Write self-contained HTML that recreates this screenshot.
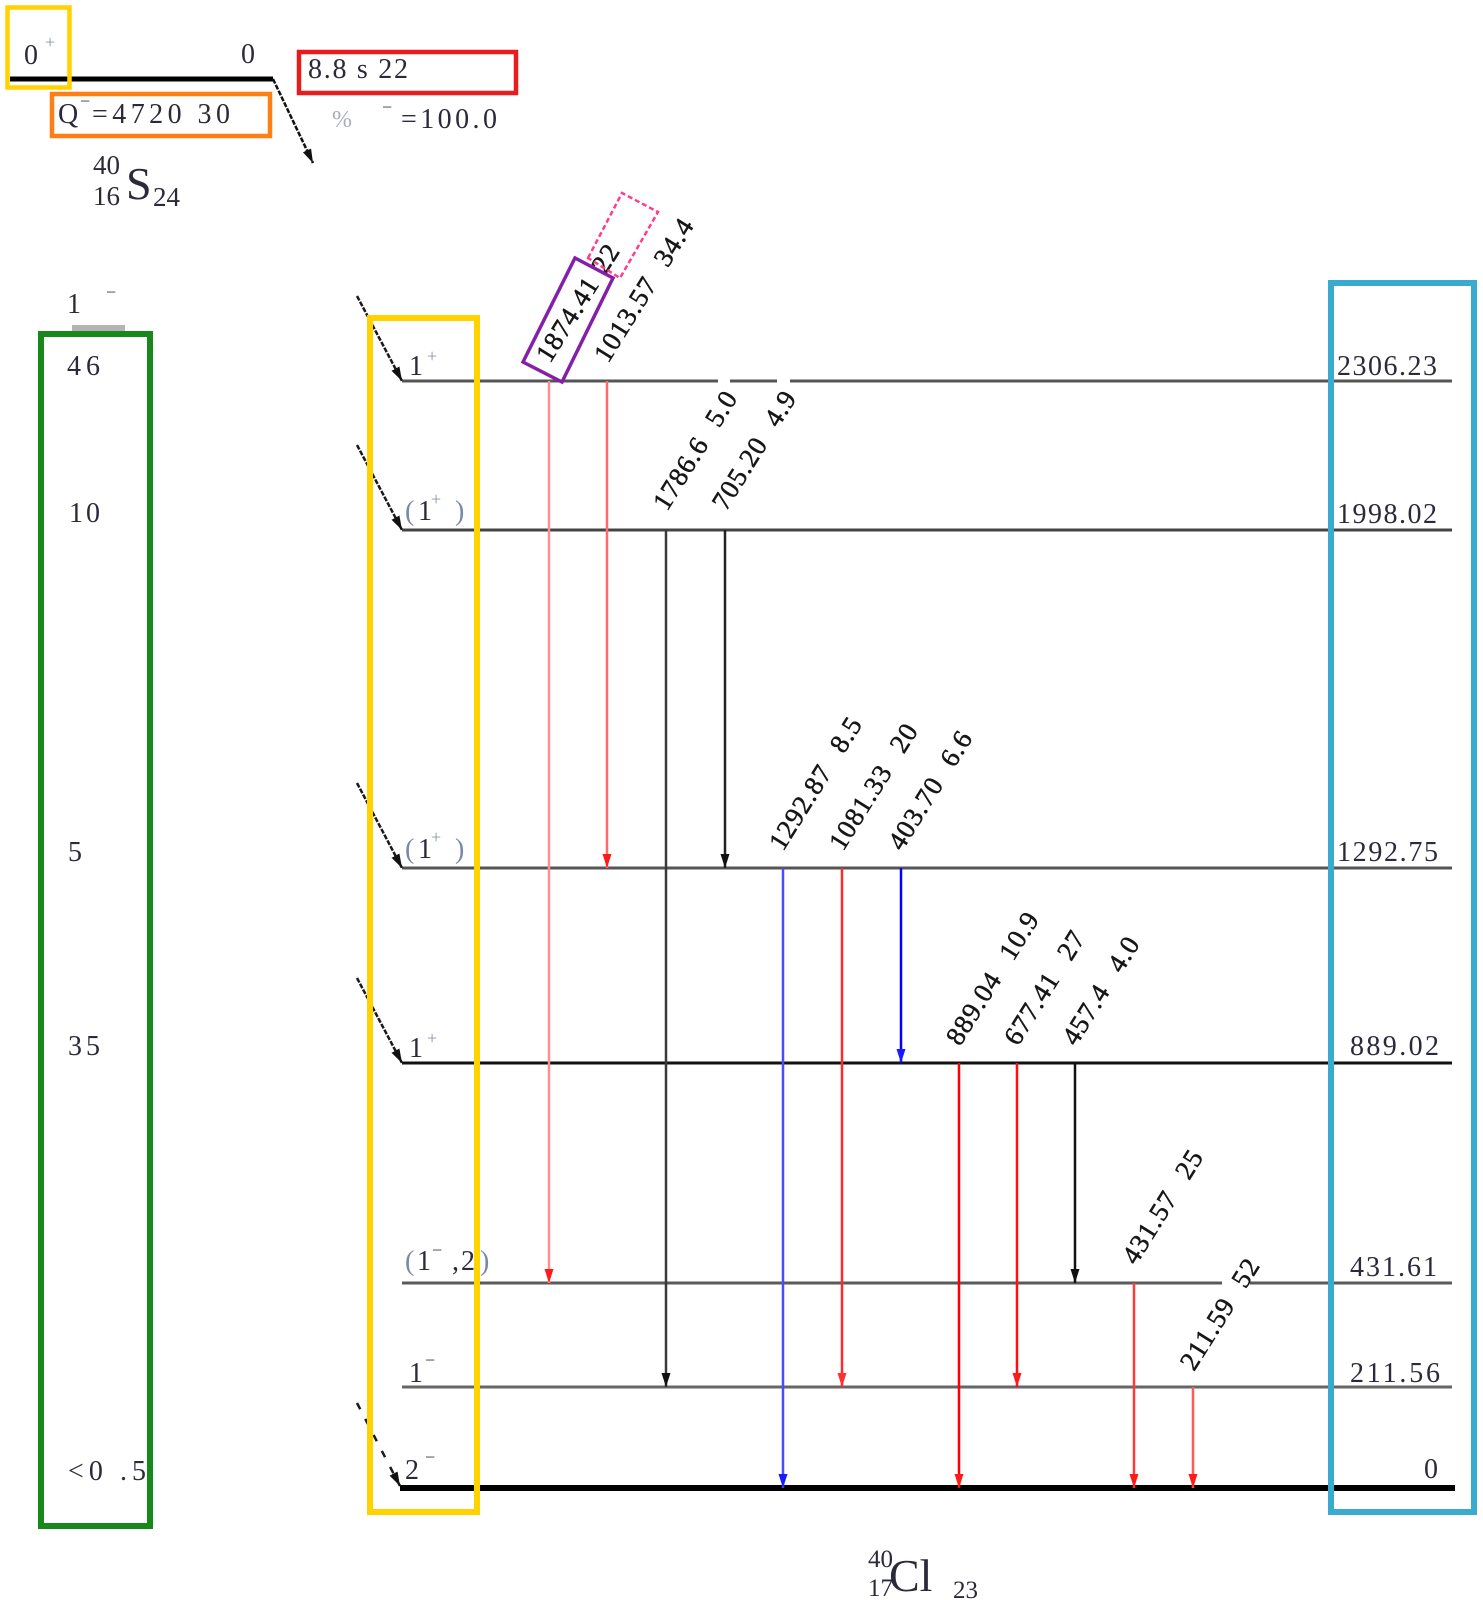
<!DOCTYPE html>
<html><head><meta charset="utf-8">
<style>
html,body{margin:0;padding:0;background:#fff;}
svg{display:block;}
text{font-family:"Liberation Serif",serif;fill:#2b2a3a;}
.lab{font-size:27px;fill:#161616;letter-spacing:1px;stroke:#161616;stroke-width:0.5px;}
.en{font-size:28px;}
.sp{font-size:28px;}
.sup{font-size:18px;fill:#8a97ad;}
</style></head><body>
<svg width="1483" height="1600" viewBox="0 0 1483 1600" xmlns="http://www.w3.org/2000/svg">
<defs>
<marker id="mk" markerUnits="userSpaceOnUse" markerWidth="14" markerHeight="9" refX="14" refY="4.5" orient="auto" viewBox="0 0 14 9"><path d="M0,0L14,4.5L0,9z" fill="#111"/></marker>
<marker id="mr" markerUnits="userSpaceOnUse" markerWidth="14" markerHeight="9" refX="14" refY="4.5" orient="auto" viewBox="0 0 14 9"><path d="M0,0L14,4.5L0,9z" fill="#ff1a1a"/></marker>
<marker id="mp" markerUnits="userSpaceOnUse" markerWidth="14" markerHeight="9" refX="14" refY="4.5" orient="auto" viewBox="0 0 14 9"><path d="M0,0L14,4.5L0,9z" fill="#ff3030"/></marker>
<marker id="mb" markerUnits="userSpaceOnUse" markerWidth="14" markerHeight="9" refX="14" refY="4.5" orient="auto" viewBox="0 0 14 9"><path d="M0,0L14,4.5L0,9z" fill="#1a1aff"/></marker>
</defs>
<rect width="1483" height="1600" fill="#fff"/>

<!-- Parent level -->
<line x1="10" y1="79" x2="273" y2="79" stroke="#000" stroke-width="5"/>
<line x1="273" y1="79" x2="313" y2="163" stroke="#111" stroke-width="2.5" stroke-dasharray="5 1.5" marker-end="url(#mk)"/>
<text x="24" y="64" class="sp" fill="#3a3a55">0</text>
<text x="45" y="48" class="sup">+</text>
<text x="241" y="63" class="sp">0</text>
<text x="58" y="123" class="sp">Q</text>
<text x="80" y="107" class="sup" style="fill:#3a3a55">−</text>
<text x="92" y="123" class="sp" textLength="138" lengthAdjust="spacing">=4720 30</text>
<text x="308" y="78" class="sp" textLength="100" lengthAdjust="spacing">8.8 s 22</text>
<text x="332" y="127" style="font-size:24px;fill:#a8adb8">%</text>
<text x="382" y="113" class="sup" style="fill:#3a3a55">−</text>
<text x="401" y="128" class="sp" textLength="96" lengthAdjust="spacing">=100.0</text>
<text x="93" y="174" style="font-size:27px">40</text>
<text x="93" y="205" style="font-size:27px">16</text>
<text x="126" y="199" style="font-size:46px">S</text>
<text x="153" y="206" style="font-size:27px">24</text>

<!-- Daughter levels -->
<g stroke-width="3">
<line x1="402" y1="381" x2="718" y2="381" stroke="#555"/>
<line x1="730" y1="381" x2="777" y2="381" stroke="#555"/>
<line x1="790" y1="381" x2="1452" y2="381" stroke="#555"/>
<line x1="402" y1="530" x2="1452" y2="530" stroke="#444"/>
<line x1="402" y1="868" x2="1452" y2="868" stroke="#555"/>
<line x1="402" y1="1063" x2="1452" y2="1063" stroke="#111"/>
<line x1="402" y1="1283" x2="1222" y2="1283" stroke="#5a5a5a"/>
<line x1="1250" y1="1283" x2="1452" y2="1283" stroke="#5a5a5a"/>
<line x1="402" y1="1387" x2="1452" y2="1387" stroke="#666"/>
</g>
<line x1="400" y1="1488" x2="1455" y2="1488" stroke="#000" stroke-width="6"/>

<!-- feeding arrows -->
<g stroke="#1a1a1a" stroke-width="2.5" stroke-dasharray="5 1.5">
<line x1="357" y1="296" x2="402" y2="381" marker-end="url(#mk)"/>
<line x1="357" y1="445" x2="402" y2="530" marker-end="url(#mk)"/>
<line x1="357" y1="783" x2="402" y2="868" marker-end="url(#mk)"/>
<line x1="357" y1="978" x2="402" y2="1063" marker-end="url(#mk)"/>
</g>
<line x1="357" y1="1403" x2="400" y2="1486" stroke="#1a1a1a" stroke-width="2.5" stroke-dasharray="7 11" marker-end="url(#mk)"/>

<!-- transitions -->
<g stroke-width="2.5">
<line x1="549" y1="381" x2="549" y2="1283" stroke="#ff8e8e" marker-end="url(#mr)"/>
<line x1="607" y1="381" x2="607" y2="868" stroke="#ff6b6b" marker-end="url(#mr)"/>
<line x1="666" y1="530" x2="666" y2="1387" stroke="#3a3a3a" marker-end="url(#mk)"/>
<line x1="725" y1="530" x2="725" y2="868" stroke="#222" marker-end="url(#mk)"/>
<line x1="783" y1="868" x2="783" y2="1488" stroke="#4a4aff" marker-end="url(#mb)"/>
<line x1="842" y1="868" x2="842" y2="1387" stroke="#ff2a2a" marker-end="url(#mp)"/>
<line x1="901" y1="868" x2="901" y2="1063" stroke="#0000ff" marker-end="url(#mb)"/>
<line x1="959" y1="1063" x2="959" y2="1488" stroke="#ff0000" marker-end="url(#mr)"/>
<line x1="1017" y1="1063" x2="1017" y2="1387" stroke="#ff1010" marker-end="url(#mr)"/>
<line x1="1075" y1="1063" x2="1075" y2="1283" stroke="#111" marker-end="url(#mk)"/>
<line x1="1134" y1="1283" x2="1134" y2="1488" stroke="#ff3a3a" marker-end="url(#mr)"/>
<line x1="1193" y1="1387" x2="1193" y2="1488" stroke="#ff5a5a" marker-end="url(#mr)"/>
</g>

<!-- rotated transition labels -->
<text class="lab" transform="translate(550,364) rotate(-58)">1874.41<tspan dx="10">22</tspan></text>
<text class="lab" transform="translate(608,364) rotate(-58)">1013.57<tspan dx="18">34.4</tspan></text>
<text class="lab" transform="translate(667,512) rotate(-58)">1786.6<tspan dx="18">5.0</tspan></text>
<text class="lab" transform="translate(726,512) rotate(-58)">705.20<tspan dx="18">4.9</tspan></text>
<text class="lab" transform="translate(783,852) rotate(-58)">1292.87<tspan dx="20">8.5</tspan></text>
<text class="lab" transform="translate(843,852) rotate(-58)">1081.33<tspan dx="20">20</tspan></text>
<text class="lab" transform="translate(902,852) rotate(-58)">403.70<tspan dx="18">6.6</tspan></text>
<text class="lab" transform="translate(960,1047) rotate(-58)">889.04<tspan dx="20">10.9</tspan></text>
<text class="lab" transform="translate(1018,1047) rotate(-58)">677.41<tspan dx="20">27</tspan></text>
<text class="lab" transform="translate(1076,1047) rotate(-58)">457.4<tspan dx="20">4.0</tspan></text>
<text class="lab" transform="translate(1136,1266) rotate(-58)">431.57<tspan dx="20">25</tspan></text>
<text class="lab" transform="translate(1194,1372) rotate(-58)">211.59<tspan dx="18">52</tspan></text>

<!-- energy labels -->
<text class="en" x="1337" y="375" textLength="100" lengthAdjust="spacing">2306.23</text>
<text class="en" x="1337" y="523" textLength="100" lengthAdjust="spacing">1998.02</text>
<text class="en" x="1337" y="861" textLength="101" lengthAdjust="spacing">1292.75</text>
<text class="en" x="1350" y="1055" textLength="89" lengthAdjust="spacing">889.02</text>
<text class="en" x="1350" y="1276" textLength="87" lengthAdjust="spacing">431.61</text>
<text class="en" x="1350" y="1382" textLength="90" lengthAdjust="spacing">211.56</text>
<text class="en" x="1424" y="1478">0</text>

<!-- spin labels -->
<text class="sp" x="409" y="375">1</text><text class="sup" x="427" y="362">+</text>
<text class="sp" x="405" y="520" style="fill:#7a88a8">(</text><text class="sp" x="418" y="520">1</text><text class="sup" x="431" y="505">+</text><text class="sp" x="455" y="520" style="fill:#7a88a8">)</text>
<text class="sp" x="405" y="858" style="fill:#7a88a8">(</text><text class="sp" x="418" y="858">1</text><text class="sup" x="431" y="843">+</text><text class="sp" x="455" y="858" style="fill:#7a88a8">)</text>
<text class="sp" x="409" y="1057">1</text><text class="sup" x="427" y="1044">+</text>
<text class="sp" x="405" y="1270" style="fill:#7a88a8">(</text><text class="sp" x="417" y="1270">1</text><text class="sup" x="432" y="1256" style="fill:#3a3a55">−</text><text class="sp" x="452" y="1270">,</text><text class="sp" x="461" y="1270">2</text><text class="sp" x="480" y="1270" style="fill:#7a88a8">)</text>
<text class="sp" x="409" y="1382">1</text><text class="sup" x="425" y="1366" style="fill:#3a3a55">−</text>
<text class="sp" x="405" y="1479">2</text><text class="sup" x="425" y="1463" style="fill:#3a3a55">−</text>

<!-- left column -->
<text class="sp" x="67" y="313">1</text>
<text class="sup" x="106" y="298" style="fill:#3a3a55">−</text>
<rect x="72" y="325" width="53" height="6" fill="#b4b4b4"/>
<text class="en" x="67" y="375" textLength="33" lengthAdjust="spacing">46</text>
<text class="en" x="69" y="522" textLength="31" lengthAdjust="spacing">10</text>
<text class="en" x="68" y="861">5</text>
<text class="en" x="68" y="1055" textLength="32" lengthAdjust="spacing">35</text>
<text class="en" x="68" y="1480" textLength="78" lengthAdjust="spacing">&lt;0 .5</text>

<!-- Cl label -->
<text x="868" y="1567" style="font-size:25px">40</text>
<text x="868" y="1596" style="font-size:25px">17</text>
<text x="889" y="1591" style="font-size:46px">Cl</text>
<text x="953" y="1598" style="font-size:25px">23</text>

<!-- highlight boxes -->
<g fill="none">
<rect x="7.5" y="7.5" width="62" height="80" stroke="#ffd200" stroke-width="4.5"/>
<rect x="52" y="94" width="218" height="42" stroke="#ff7f14" stroke-width="4.5"/>
<rect x="299" y="52" width="217" height="41" stroke="#e81c1c" stroke-width="4.5"/>
<polygon points="523,362 575,258 613,278 562,382" stroke="#861fa8" stroke-width="3.5"/>
<polygon points="588,258 622,193 658,212 620,278" stroke="#ff3d8b" stroke-width="2.5" stroke-dasharray="5 3"/>
<rect x="41" y="334" width="109" height="1192" stroke="#17891a" stroke-width="6"/>
<rect x="370" y="318" width="107" height="1194" stroke="#ffd200" stroke-width="6"/>
<rect x="1331" y="283" width="143" height="1229" stroke="#3aabcf" stroke-width="6"/>
</g>
</svg>
</body></html>
